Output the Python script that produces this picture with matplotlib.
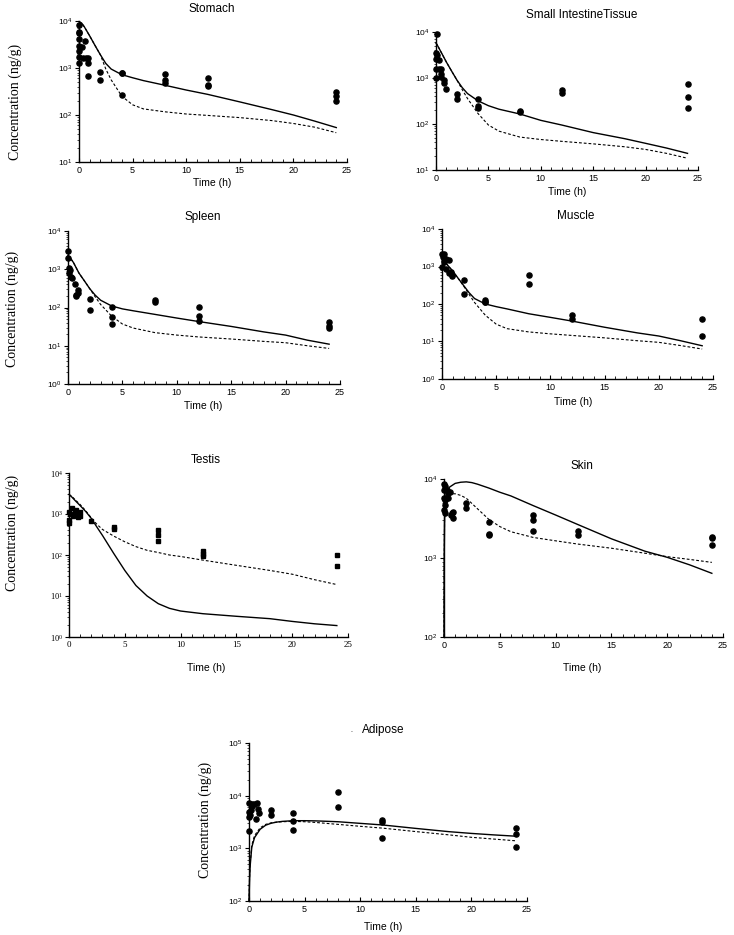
import numpy as np
import matplotlib
matplotlib.use("Agg")
import matplotlib.pyplot as plt
from matplotlib.ticker import FuncFormatter, LogLocator, MultipleLocator, NullFormatter

plt.rcParams['font.family'] = ['Liberation Sans', 'DejaVu Sans']
plt.rcParams['mathtext.fontset'] = 'custom'
plt.rcParams['mathtext.sf'] = 'Liberation Sans'
plt.rcParams['mathtext.rm'] = 'Liberation Serif'

# ---- data (time in h, concentration in ng/g) ----
line_t = [0, 0.25, 0.5, 1, 1.5, 2, 2.5, 3, 4, 5, 6, 8, 10, 12, 15, 18, 20, 22, 24]

# Stomach
stomach_t = [0, 0, 0, 0, 0, 0, 0, 0, 0.25, 0.55, 0.4, 0.65, 0.8, 0.8, 0.85,
             2, 2, 4, 4, 4, 8, 8, 8, 12, 12, 12, 24, 24, 24]
stomach_c = [8200, 5900, 5500, 4100, 2940, 2330, 1740, 1290, 2830, 3810, 1660, 1610, 1610, 1290, 675,
             830, 550, 800, 770, 270, 740, 550, 490, 620, 435, 415, 310, 250, 200]
stomach_solid = [9700, 9000, 7500, 4800, 3000, 1900, 1250, 950, 720, 620, 540, 430, 340, 275, 190, 130, 100, 74, 54]
stomach_dashed = [9700, 9000, 7500, 4800, 3000, 1900, 950, 560, 250, 165, 135, 117, 105, 98, 88, 76, 66, 55, 42]

# Small intestine tissue
si_t = [0.07, 0, 0.05, 0, 0.25, 0, 0.3, 0.5, 0, 0.5, 0.5, 0.75, 0.75, 1,
        2, 2, 4, 4, 4, 8, 8, 12, 12, 24, 24, 24]
si_c = [9000, 3560, 3240, 2650, 2440, 1600, 1600, 1600, 1000, 1200, 1050, 900, 790, 590,
        460, 350, 350, 245, 220, 195, 180, 540, 470, 730, 390, 225]
si_solid = [5800, 4600, 3600, 2200, 1400, 900, 620, 460, 320, 250, 210, 165, 120, 95, 65, 48, 38, 30, 23]
si_dashed = [5800, 4600, 3600, 2200, 1400, 900, 560, 360, 170, 95, 70, 52, 46, 42, 37, 32, 28, 23, 18]

# Spleen
spleen_t = [0, 0, 0.1, 0.15, 0.1, 0.25, 0.4, 0.6, 0.9, 0.9, 0.75, 0.7,
            2, 2, 4, 4, 4, 8, 8, 12, 12, 12, 24, 24, 24]
spleen_c = [2950, 2000, 1060, 940, 790, 630, 590, 420, 285, 235, 210, 200,
            170, 85, 105, 55, 38, 155, 140, 105, 59, 44, 43, 33, 29]
spleen_solid = [2300, 1900, 1500, 800, 500, 310, 210, 155, 110, 92, 82, 66, 53, 43, 32, 23, 19, 14, 11]
spleen_dashed = [2300, 1900, 1500, 800, 500, 310, 190, 120, 60, 37, 29, 22, 19, 17, 15, 13, 12, 10, 8.5]

# Muscle
muscle_t = [0, 0.15, 0.1, 0.35, 0.65, 0.15, 0, 0.35, 0.65, 0.85, 0.9, 0.9,
            2, 2, 4, 4, 4, 8, 8, 12, 12, 24, 24]
muscle_c = [2100, 2100, 1780, 1620, 1500, 1300, 960, 870, 680, 700, 600, 560,
            450, 185, 130, 115, 110, 590, 340, 50, 41, 41, 14]
muscle_solid = [1400, 1300, 1100, 750, 480, 310, 200, 140, 100, 85, 74, 55, 44, 35, 24, 17, 14, 10.5, 7.7]
muscle_dashed = [1400, 1300, 1100, 750, 480, 300, 180, 110, 50, 29, 22, 18, 16, 14.5, 12.5, 10.5, 9.5, 7.8, 6.3]

# Testis
testis_t = [0, 0, 0, 0.1, 0.25, 0.4, 0.55, 0.6, 0.75, 0.85, 0.95, 1,
            2, 4, 4, 8, 8, 8, 12, 12, 12, 24, 24]
testis_c = [1150, 720, 620, 1000, 1400, 910, 1150, 1260, 980, 840, 1100, 910,
            690, 490, 430, 410, 310, 215, 123, 108, 96, 102, 55]
testis_line_t = [0, 0.25, 0.5, 1, 1.5, 2, 2.5, 3, 4, 5, 6, 7, 8, 9, 10, 12, 15, 18, 20, 22, 24]
testis_solid = [3000, 2600, 2200, 1600, 1150, 780, 480, 300, 110, 42, 18, 10, 6.5, 5, 4.3, 3.7, 3.2, 2.8, 2.4, 2.1, 1.9]
testis_dashed = [3000, 2700, 2300, 1700, 1200, 800, 560, 420, 290, 210, 160, 130, 115, 100, 92, 75, 56, 42, 34, 25, 19]

# Skin
skin_t = [0, 0.05, 0, 0.25, 0.35, 0.55, 0, 0.05, 0.4, 0.05, 0, 0.05, 0.7, 0.85, 0.6, 0.8,
          2, 2, 4, 4, 4, 8, 8, 8, 12, 12, 24, 24, 24]
skin_c = [8700, 8100, 7300, 7200, 6700, 6800, 5750, 5450, 5750, 4700, 4100, 3700, 3700, 3200, 3500, 3800,
          5000, 4350, 2850, 2040, 1960, 3500, 3000, 2200, 2200, 1950, 1850, 1770, 1480]
skin_line_t = [0, 0.02, 0.05, 0.1, 0.25, 0.5, 1, 1.5, 2, 2.5, 3, 4, 5, 6, 8, 10, 12, 15, 18, 20, 22, 24]
skin_solid = [100, 1000, 3000, 5500, 7000, 7900, 8800, 9100, 9200, 9000, 8600, 7700, 6800, 6100, 4600, 3500, 2650, 1750, 1220, 1020, 820, 640]
skin_dashed = [100, 1000, 3000, 5000, 6000, 6500, 6500, 6200, 5700, 4900, 4200, 3100, 2500, 2150, 1820, 1650, 1500, 1330, 1150, 1040, 960, 880]

# Adipose
adipose_t = [0, 0.25, 0.45, 0.7, 0.15, 0, 0.1, 0, 0.3, 0.85, 0.9, 0.65, 0,
             2, 2, 4, 4, 4, 8, 8, 12, 12, 12, 24, 24, 24]
adipose_c = [7200, 7000, 6800, 7200, 5400, 4800, 4300, 4000, 6300, 5500, 4600, 3550, 2100,
             5350, 4250, 4600, 3350, 2250, 11500, 6200, 3450, 3100, 1600, 2450, 1880, 1070]
adipose_line_t = [0, 0.05, 0.1, 0.25, 0.5, 1, 1.5, 2, 2.5, 3, 4, 5, 6, 8, 10, 12, 15, 18, 20, 22, 24]
adipose_solid = [100, 250, 450, 1050, 1600, 2300, 2750, 3000, 3150, 3250, 3350, 3350, 3320, 3200, 2980, 2780, 2390, 2070, 1920, 1800, 1700]
adipose_dashed = [100, 280, 500, 1150, 1750, 2450, 2850, 3050, 3150, 3200, 3250, 3200, 3100, 2850, 2620, 2420, 2080, 1800, 1620, 1500, 1390]

W, H = 734, 935


def fx(x):
    return x / W


def fy(y):
    return 1 - y / H


panels = [
    # box = axes edges in px (left, right, top, bottom); title/xl/yl = text centres in px
    dict(name='Stomach', t=stomach_t, c=stomach_c, lt=line_t, s=stomach_solid, d=stomach_dashed,
         ylim=(1e1, 1e4), box=(79, 347, 21, 162), title=(212, 9), xl=(212, 183), yl=(15, 102), m='o', ff='sf'),
    dict(name='Small IntestineTissue', t=si_t, c=si_c, lt=line_t, s=si_solid, d=si_dashed,
         ylim=(1e1, 1e4), box=(436, 698, 32, 170), title=(582, 15), xl=(567, 192), yl=None, m='o', ff='sf'),
    dict(name='Spleen', t=spleen_t, c=spleen_c, lt=line_t, s=spleen_solid, d=spleen_dashed,
         ylim=(1e0, 1e4), box=(68, 340, 231, 384), title=(203, 217), xl=(203, 406), yl=(12, 309), m='o', ff='sf'),
    dict(name='Muscle', t=muscle_t, c=muscle_c, lt=line_t, s=muscle_solid, d=muscle_dashed,
         ylim=(1e0, 1e4), box=(442, 713, 229, 379), title=(576, 216), xl=(573, 402), yl=None, m='o', ff='sf'),
    dict(name='Testis', t=testis_t, c=testis_c, lt=testis_line_t, s=testis_solid, d=testis_dashed,
         ylim=(1e0, 1e4), box=(69, 348, 473, 637), title=(206, 460), xl=(206, 668), yl=(12, 533), m='s', ff='rm'),
    dict(name='Skin', t=skin_t, c=skin_c, lt=skin_line_t, s=skin_solid, d=skin_dashed,
         ylim=(1e2, 1e4), box=(444, 723, 479, 637), title=(582, 466), xl=(582, 668), yl=None, m='o', ff='sf'),
    dict(name='Adipose', t=adipose_t, c=adipose_c, lt=adipose_line_t, s=adipose_solid, d=adipose_dashed,
         ylim=(1e2, 1e5), box=(249, 527, 743, 901), title=(383, 730), xl=(383, 927), yl=(205, 820), m='o', ff='sf'),
]

fig = plt.figure(figsize=(W / 100, H / 100), dpi=100)

for p in panels:
    l, r, t, b = p['box']
    ax = fig.add_axes([fx(l), fy(b), (r - l) / W, (b - t) / H])
    ax.set_yscale('log')
    ax.set_xlim(0, 25)
    ax.set_ylim(*p['ylim'])

    ax.plot(p['lt'], p['s'], color='black', lw=1.0, clip_on=False)
    ax.plot(p['lt'], p['d'], color='black', lw=0.8, dashes=(2.5, 1.8), clip_on=False)
    ms = 3.4 if p['m'] == 's' else 3.7
    ax.plot(p['t'], p['c'], ls='none', marker=p['m'], ms=ms, color='black', clip_on=False)

    for side in ['top', 'right']:
        ax.spines[side].set_visible(False)
    for side in ['left', 'bottom']:
        ax.spines[side].set_linewidth(1.0)

    ax.xaxis.set_major_locator(MultipleLocator(5))
    ax.xaxis.set_minor_locator(MultipleLocator(1))
    ax.yaxis.set_major_locator(LogLocator(base=10, numticks=10))
    ax.yaxis.set_minor_locator(LogLocator(base=10, subs=np.arange(2, 10), numticks=10))
    style = p['ff']
    ax.yaxis.set_major_formatter(FuncFormatter(
        lambda v, pos, st=style: r'$\math%s{10^{%d}}$' % (st, round(np.log10(v)))))
    ax.yaxis.set_minor_formatter(NullFormatter())

    fam = ['Liberation Serif'] if style == 'rm' else ['Liberation Sans']
    ax.tick_params(axis='x', which='major', direction='in', length=3, width=0.8, labelsize=6.5, pad=3)
    ax.tick_params(axis='x', which='minor', direction='in', length=2, width=0.6)
    ax.tick_params(axis='y', which='major', direction='out', length=3, width=0.8, labelsize=6, pad=1.5)
    ax.tick_params(axis='y', which='minor', direction='out', length=1.5, width=0.5)
    for lab in ax.get_xticklabels():
        lab.set_family(fam)

    fig.text(fx(p['title'][0]), fy(p['title'][1]), p['name'], ha='center', va='center', fontsize=8.5)
    fig.text(fx(p['xl'][0]), fy(p['xl'][1]), 'Time (h)', ha='center', va='center', fontsize=7.5)
    if p['yl'] is not None:
        fig.text(fx(p['yl'][0]), fy(p['yl'][1]), 'Concentration (ng/g)', ha='center', va='center',
                 rotation=90, fontsize=10, family=['Liberation Serif'])

# small stray mark next to the Adipose title in the scan
fig.text(fx(351), fy(731), '.', ha='center', va='center', fontsize=5)

fig.savefig('out.png', dpi=100)
